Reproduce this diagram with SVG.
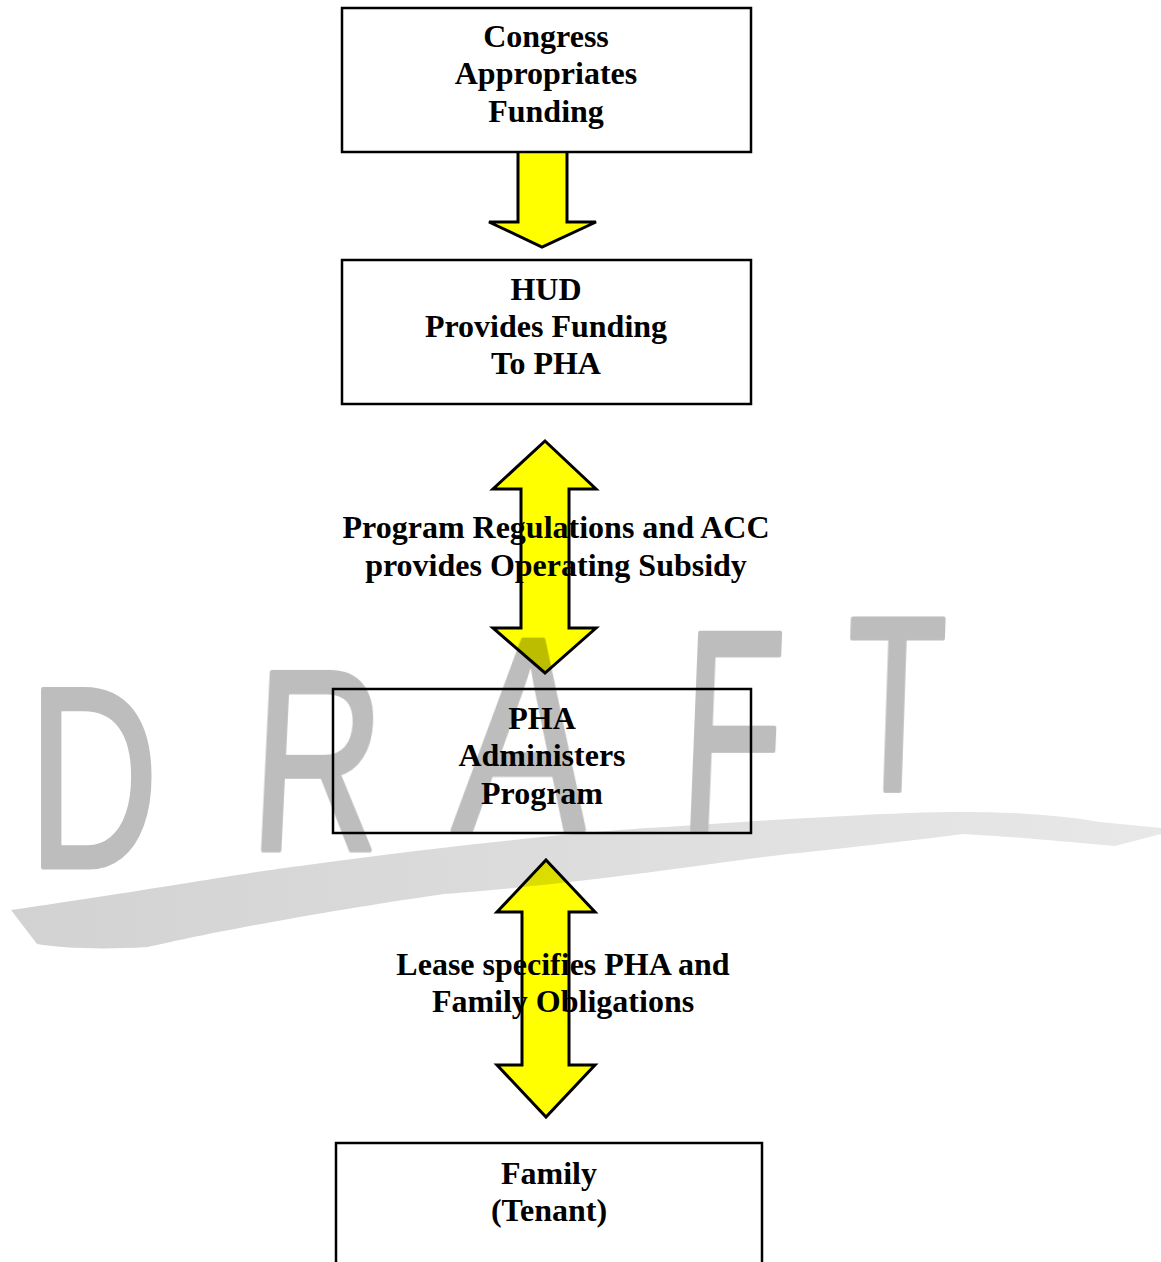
<svg xmlns="http://www.w3.org/2000/svg" width="1161" height="1262" viewBox="0 0 1161 1262">
<defs>
<style>
.box{fill:#ffffff;stroke:#000;stroke-width:2.5}
.arr{fill:#ffff00;stroke:#000;stroke-width:3;stroke-linejoin:miter}
.t{font-family:"Liberation Serif","Times New Roman",serif;font-weight:bold;font-size:32px;fill:#000;text-anchor:middle}
.wm{font-family:"Liberation Sans",Arial,sans-serif;fill:#bdbdbd;stroke:#bdbdbd;stroke-width:5;stroke-linejoin:round}
</style>
<linearGradient id="sw" x1="0" y1="0" x2="1" y2="0">
<stop offset="0" stop-color="#d2d2d2"/>
<stop offset="1" stop-color="#e8e8e8"/>
</linearGradient>
</defs>
<rect width="1161" height="1262" fill="#fff"/>
<g id="connectors">
<polygon id="arrow1" class="arr" points="518,150 567,150 567,222 596,222 542,247 489,222 518,222"/>
<polygon id="arrow2" class="arr" points="545,441 596,489 569,489 569,628 596,628 545,673 493,628 521,628 521,489 493,489"/>
<polygon id="arrow3" class="arr" points="546,860 595,912 569,912 569,1065 595,1065 546,1117 497,1065 522,1065 522,912 497,912"/>
</g>
<g id="node-congress">
<rect class="box" x="342" y="8" width="409" height="144"/>
<text class="t" x="546" y="47">Congress</text>
<text class="t" x="546" y="84">Appropriates</text>
<text class="t" x="546" y="122">Funding</text>
</g>
<g id="node-hud">
<rect class="box" x="342" y="260" width="409" height="144"/>
<text class="t" x="546" y="300">HUD</text>
<text class="t" x="546" y="337">Provides Funding</text>
<text class="t" x="546" y="374">To PHA</text>
</g>
<g id="node-pha">
<rect class="box" x="333" y="689" width="418" height="144"/>
<text class="t" x="542" y="729">PHA</text>
<text class="t" x="542" y="766">Administers</text>
<text class="t" x="542" y="804">Program</text>
</g>
<g id="node-family">
<rect class="box" x="336" y="1143" width="426" height="140"/>
<text class="t" x="549" y="1184">Family</text>
<text class="t" x="549" y="1221">(Tenant)</text>
</g>
<g id="labels">
<text class="t" x="556" y="538">Program Regulations and ACC</text>
<text class="t" x="556" y="576">provides Operating Subsidy</text>
<text class="t" x="563" y="975">Lease specifies PHA and</text>
<text class="t" x="563" y="1012">Family Obligations</text>
</g>
<g id="watermark" style="mix-blend-mode:multiply">
<path fill="url(#sw)" d="M 11 910 C 150 890, 250 872, 300 866 C 450 845, 600 830, 667 827 C 800 818, 900 812, 963 812 C 1030 812, 1080 818, 1100 822 L 1161 828 L 1161 834 L 1115 846 C 1050 840, 1000 836, 963 834 C 880 845, 800 852, 741 860 C 600 880, 500 890, 444 894 C 300 915, 200 935, 148 947 C 100 950, 60 948, 37 944 Z"/>
<text class="wm" font-size="258" transform="translate(28,867) scale(0.7,1)">D</text>
<text class="wm" font-size="258" transform="translate(248,850) scale(0.7,1) skewX(-4)">R</text>
<text class="wm" font-size="276" transform="translate(452,830) scale(0.72,1) skewX(-6)">A</text>
<text class="wm" font-size="286" transform="translate(678,830) scale(0.58,1) skewX(-4)">F</text>
<text class="wm" font-size="249" transform="translate(843,790) scale(0.65,1) skewX(-3)">T</text>
</g>
</svg>
